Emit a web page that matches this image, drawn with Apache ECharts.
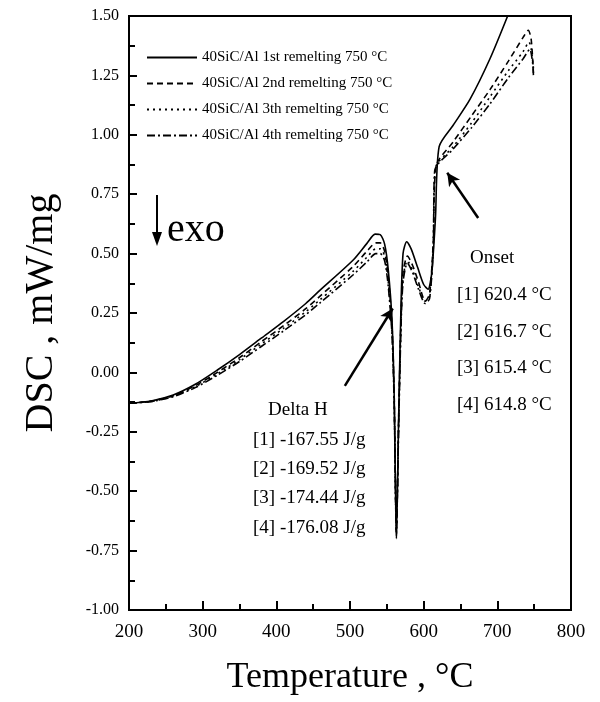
<!DOCTYPE html>
<html>
<head>
<meta charset="utf-8">
<script src="https://cdn.jsdelivr.net/npm/echarts@6/dist/echarts.min.js"></script>
<style>
  html, body { margin: 0; padding: 0; background: #fff; }
  #main { width: 600px; height: 702px; }
</style>
</head>
<body>
<div id="main"></div>
<script>
// series names
var names = [
  '40SiC/Al 1st remelting 750 °C',
  '40SiC/Al 2nd remelting 750 °C',
  '40SiC/Al 3th remelting 750 °C',
  '40SiC/Al 4th remelting 750 °C'
];

// [temperature, DSC]
var run1 = [
  [200, -0.13], [230, -0.12], [260, -0.095], [290, -0.05], [320, 0.01],
  [350, 0.075], [380, 0.145], [410, 0.215], [440, 0.29], [459, 0.345],
  [504, 0.472], [523, 0.543], [534, 0.582], [541, 0.58], [547, 0.54],
  [552, 0.43], [557, 0.22], [560, -0.10], [563, -0.70], [566, -0.20],
  [569, 0.25], [572, 0.50], [577, 0.55], [583, 0.52], [592, 0.44],
  [600, 0.37], [606, 0.35], [611, 0.42], [616, 0.65], [621, 0.95],
  [640, 1.04], [663, 1.15], [690, 1.32], [714, 1.50]
];
var run2 = [
  [200, -0.13], [230, -0.121], [260, -0.098], [290, -0.056], [320, 0.0],
  [350, 0.062], [380, 0.13], [410, 0.197], [440, 0.268], [459, 0.32],
  [504, 0.445], [523, 0.51], [535, 0.545], [541, 0.545], [547, 0.51],
  [552, 0.40], [557, 0.20], [560, -0.10], [563, -0.69], [566, -0.20],
  [569, 0.20], [572, 0.42], [578, 0.49], [585, 0.45], [593, 0.38],
  [602, 0.30], [608, 0.33], [613, 0.55], [617, 0.87], [640, 0.97],
  [665, 1.08], [690, 1.19], [715, 1.31], [735, 1.41], [742, 1.44],
  [746, 1.40], [749, 1.26]
];
var run3 = [
  [200, -0.13], [230, -0.122], [260, -0.1], [290, -0.06], [320, -0.006],
  [350, 0.054], [380, 0.12], [410, 0.186], [440, 0.255], [459, 0.305],
  [504, 0.425], [523, 0.485], [535, 0.52], [541, 0.52], [547, 0.49],
  [552, 0.38], [557, 0.18], [560, -0.12], [563, -0.68], [566, -0.22],
  [569, 0.18], [572, 0.40], [578, 0.47], [585, 0.43], [593, 0.36],
  [602, 0.30], [608, 0.32], [613, 0.53], [616, 0.86], [640, 0.95],
  [665, 1.05], [690, 1.16], [715, 1.27], [735, 1.35], [743, 1.39],
  [746, 1.36], [749, 1.28]
];
var run4 = [
  [200, -0.13], [230, -0.123], [260, -0.102], [290, -0.064], [320, -0.012],
  [350, 0.046], [380, 0.11], [410, 0.175], [440, 0.243], [459, 0.292],
  [504, 0.41], [523, 0.465], [535, 0.50], [541, 0.50], [547, 0.47],
  [552, 0.36], [557, 0.16], [560, -0.14], [563, -0.67], [566, -0.24],
  [569, 0.16], [572, 0.38], [578, 0.46], [585, 0.42], [593, 0.35],
  [602, 0.29], [608, 0.31], [613, 0.52], [615, 0.85], [640, 0.94],
  [665, 1.03], [690, 1.13], [715, 1.24], [735, 1.32], [744, 1.36],
  [748, 1.30], [749, 1.25]
];

var lineTypes = ['solid', [6, 4], [2, 4], [8, 3, 2, 3]];

// annotation arrows [from, to] in data units
var deltaArrow = [[493, -0.057], [558, 0.269]];
var onsetArrow = [[674, 0.65], [632, 0.84]];

var deltaLines = ['Delta H', '[1] -167.55 J/g', '[2] -169.52 J/g', '[3] -174.44 J/g', '[4] -176.08 J/g'];
var onsetLines = ['Onset', '[1] 620.4 °C', '[2] 616.7 °C', '[3] 615.4 °C', '[4] 614.8 °C'];

var FONT = '"Liberation Serif", "Times New Roman", serif';

var chart = echarts.init(document.getElementById('main'));

var series = [run1, run2, run3, run4].map(function (d, i) {
  var s = {
    name: names[i],
    type: 'line',
    data: d,
    symbol: 'none',
    smooth: 0.25,
    clip: true,
    lineStyle: { color: '#000', width: 1.6, type: lineTypes[i] },
    itemStyle: { color: '#000' },
    silent: true,
    animation: false
  };
  if (i === 0) {
    s.markLine = {
      silent: true,
      symbol: ['none', 'arrow'],
      symbolSize: [10, 13],
      label: { show: false },
      lineStyle: { color: '#000', width: 2.5, type: 'solid' },
      data: [
        [{ coord: deltaArrow[0] }, { coord: deltaArrow[1] }],
        [{ coord: onsetArrow[0] }, { coord: onsetArrow[1] }]
      ],
      animation: false
    };
  }
  return s;
});

var graphics = [];
var deltaY = [410, 440, 469, 498, 528];
deltaLines.forEach(function (t, i) {
  graphics.push({
    type: 'text',
    x: i === 0 ? 268 : 253,
    y: deltaY[i],
    style: { text: t, font: '19px ' + FONT, fill: '#000', verticalAlign: 'middle' }
  });
});
var onsetY = [258, 295, 332, 368, 405];
onsetLines.forEach(function (t, i) {
  graphics.push({
    type: 'text',
    x: i === 0 ? 470 : 457,
    y: onsetY[i],
    style: { text: t, font: '19px ' + FONT, fill: '#000', verticalAlign: 'middle' }
  });
});
// exo arrow
graphics.push({
  type: 'line',
  shape: { x1: 157, y1: 195, x2: 157, y2: 234 },
  style: { stroke: '#000', lineWidth: 2 }
});
graphics.push({
  type: 'polygon',
  shape: { points: [[152, 232], [162, 232], [157, 246]] },
  style: { fill: '#000' }
});
graphics.push({
  type: 'text',
  x: 167,
  y: 230,
  style: { text: 'exo', font: '40px ' + FONT, fill: '#000', verticalAlign: 'middle' }
});

var option = {
  backgroundColor: '#fff',
  animation: false,
  textStyle: { fontFamily: FONT },
  grid: {
    left: 129, right: 29, top: 16, bottom: 92,
    show: true, borderColor: '#000', borderWidth: 2
  },
  legend: {
    orient: 'vertical',
    left: 141,
    top: 45,
    itemWidth: 50,
    itemHeight: 14,
    itemGap: 11,
    itemStyle: { opacity: 0 },
    textStyle: { fontFamily: FONT, fontSize: 15, color: '#000', lineHeight: 14 },
    data: names,
    selectedMode: false
  },
  xAxis: {
    type: 'value',
    min: 200, max: 800, interval: 100,
    name: 'Temperature , °C',
    nameLocation: 'middle',
    nameGap: 50,
    nameTextStyle: { fontFamily: FONT, fontSize: 36, color: '#000' },
    axisLine: { onZero: false, lineStyle: { color: '#000', width: 2 } },
    axisTick: { inside: true, length: 9, lineStyle: { color: '#000', width: 2 } },
    minorTick: { show: true, splitNumber: 2, length: 6, lineStyle: { color: '#000', width: 2 } },
    axisLabel: { fontFamily: FONT, fontSize: 19, color: '#000', margin: 13 },
    splitLine: { show: false }
  },
  yAxis: {
    type: 'value',
    min: -1.0, max: 1.5, interval: 0.25,
    name: 'DSC , mW/mg',
    nameLocation: 'middle',
    nameGap: 68,
    nameTextStyle: { fontFamily: FONT, fontSize: 40, color: '#000' },
    axisLine: { onZero: false, lineStyle: { color: '#000', width: 2 } },
    axisTick: { inside: true, length: 8, lineStyle: { color: '#000', width: 2 } },
    minorTick: { show: true, splitNumber: 2, length: 6, lineStyle: { color: '#000', width: 2 } },
    axisLabel: {
      fontFamily: FONT, fontSize: 16, color: '#000', margin: 10,
      formatter: function (v) { return v.toFixed(2); }
    },
    splitLine: { show: false }
  },
  graphic: graphics,
  series: series
};

chart.setOption(option);
</script>
</body>
</html>
